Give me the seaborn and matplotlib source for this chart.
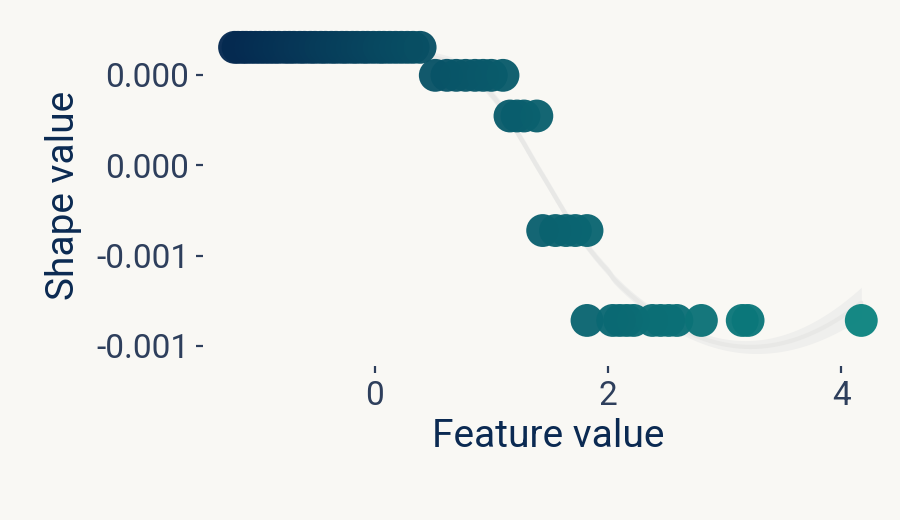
import matplotlib
matplotlib.use("Agg")
import matplotlib.pyplot as plt
from matplotlib.colors import LinearSegmentedColormap
import matplotlib.ticker as mticker
import numpy as np
import pandas as pd
import seaborn as sns

# Feature values (x) and shape values (y)
row1_x = [-1.20, -1.17, -1.13, -1.10, -1.06, -1.02, -0.98, -0.94, -0.90, -0.86,
          -0.82, -0.77, -0.73, -0.69, -0.64, -0.60, -0.55, -0.51, -0.46, -0.42,
          -0.37, -0.33, -0.28, -0.24, -0.19, -0.15, -0.10, -0.06, -0.01, 0.04,
          0.08, 0.13, 0.18, 0.23, 0.28, 0.33, 0.39]
row2_x = [0.52, 0.62, 0.70, 0.78, 0.86, 0.93, 1.00, 1.10]
row3_x = [1.16, 1.22, 1.28, 1.39]
row4_x = [1.44, 1.55, 1.64, 1.72, 1.82]
row5_x = [1.82, 2.04, 2.10, 2.16, 2.22, 2.38, 2.45, 2.52, 2.59, 2.80, 3.15, 3.20, 4.17]

row_y = [0.000322, 0.000198, 0.000018, -0.000489, -0.000887]

y_ticks = [0.0002, -0.0002, -0.0006, -0.0010]
x_ticks = [0, 2, 4]

xs = row1_x + row2_x + row3_x + row4_x + row5_x
ys = ([row_y[0]] * len(row1_x) + [row_y[1]] * len(row2_x) + [row_y[2]] * len(row3_x)
      + [row_y[3]] * len(row4_x) + [row_y[4]] * len(row5_x))
df = pd.DataFrame({"feature": xs, "shape": ys})


def _local_row(x, x0, k):
    d = np.abs(x - x0)
    h = np.sort(d)[k - 1]
    w = np.clip(1 - (d / h) ** 3, 0, None) ** 3
    X = np.column_stack([np.ones(len(x)), x - x0, (x - x0) ** 2])
    XtW = X.T * w
    return np.linalg.solve(XtW @ X, XtW)[0]


def loess(x, y, grid, span=0.6, z=0.9):
    """Local quadratic fit with tricube weights, plus a narrow error band."""
    n = len(x)
    k = int(np.ceil(span * n))
    L_grid = np.array([_local_row(x, x0, k) for x0 in grid])
    L_data = np.array([_local_row(x, x0, k) for x0 in x])
    resid = y - L_data @ y
    sigma = np.sqrt(np.sum(resid ** 2) / (n - np.trace(L_data)))
    se = sigma * np.sqrt(np.sum(L_grid ** 2, axis=1))
    fit = L_grid @ y
    return fit, fit - z * se, fit + z * se


x_arr = df["feature"].to_numpy()
y_arr = df["shape"].to_numpy()
grid = np.linspace(x_arr.min(), x_arr.max(), 120)
fit, lo, hi = loess(x_arr, y_arr, grid)
smooth = pd.DataFrame({"feature": grid, "fit": fit})

bg = "#f9f8f4"
sns.set_theme(style="white")
plt.rcParams.update({
    "figure.facecolor": bg,
    "axes.facecolor": bg,
    "savefig.facecolor": bg,
})
plt.rcParams["font.family"] = ["Roboto", "DejaVu Sans"]

cmap = LinearSegmentedColormap.from_list(
    "navy_teal",
    [(0.0, "#052950"), (0.32, "#085266"), (0.5, "#0a616f"), (1.0, "#0c8480")],
)

fig = plt.figure(figsize=(9, 5.2), dpi=100)
ax = fig.add_axes([0.2256, 0.296, 0.7664, 0.656])

ax.fill_between(grid, lo, hi, color="#efefed", lw=0, zorder=1)
sns.lineplot(data=smooth, x="feature", y="fit", color="#e8e8e6", lw=3, ax=ax, zorder=2)
sns.scatterplot(data=df, x="feature", y="shape", hue="feature", palette=cmap,
                hue_norm=(x_arr.min(), x_arr.max()), s=560, alpha=0.96,
                linewidth=0, legend=False, ax=ax, zorder=3)

ax.set_xlim(-1.47, 4.44)
ax.set_ylim(-0.001089, 0.000421)
ax.set_xticks(x_ticks)
ax.set_yticks(y_ticks)
ax.yaxis.set_major_formatter(mticker.FuncFormatter(lambda v, p: f"{round(v, 3) + 0.0:.3f}"))
ax.xaxis.set_major_formatter(mticker.FuncFormatter(lambda v, p: f"{v:g}"))

sns.despine(ax=ax, left=True, bottom=True)
ax.tick_params(axis="both", which="major", length=5, width=1.6, color="#2e3f5c",
               labelcolor="#2e3f5c", labelsize=24, pad=5, left=True, bottom=True)
ax.set_xlabel("Feature value", fontsize=28, color="#0b2a52", labelpad=4)
ax.set_ylabel("Shape value", fontsize=28, color="#0b2a52", labelpad=10)

fig.savefig("out.png", dpi=100, facecolor=bg)
